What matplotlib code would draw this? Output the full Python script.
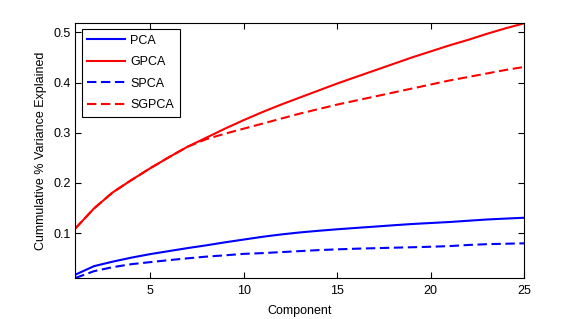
import matplotlib
matplotlib.use("Agg")
import matplotlib.pyplot as plt
import numpy as np

plt.rcParams["font.family"] = ["Liberation Sans", "DejaVu Sans"]
plt.rcParams["font.size"] = 9

components = np.arange(1, 26)

pca = [0.017, 0.034, 0.043, 0.051, 0.058, 0.064, 0.070, 0.0755, 0.0815, 0.087,
       0.0925, 0.0972, 0.1012, 0.1045, 0.1075, 0.1102, 0.1128, 0.1155, 0.118, 0.120,
       0.122, 0.1245, 0.127, 0.1288, 0.1305]
gpca = [0.109, 0.149, 0.181, 0.2056, 0.229, 0.251, 0.272, 0.290, 0.308, 0.325,
        0.341, 0.356, 0.370, 0.384, 0.398, 0.411, 0.424, 0.437, 0.450, 0.462,
        0.474, 0.485, 0.497, 0.508, 0.518]
spca = [0.0104, 0.024, 0.032, 0.038, 0.042, 0.046, 0.0496, 0.053, 0.0556, 0.0585,
        0.060, 0.062, 0.064, 0.066, 0.0675, 0.0688, 0.0698, 0.0708, 0.0717, 0.0727,
        0.074, 0.0762, 0.0778, 0.0787, 0.0795]
sgpca = [0.109, 0.149, 0.181, 0.2056, 0.229, 0.251, 0.272, 0.287, 0.298, 0.308,
         0.318, 0.328, 0.338, 0.347, 0.356, 0.364, 0.372, 0.380, 0.388, 0.396,
         0.404, 0.411, 0.418, 0.425, 0.431]

fig = plt.figure(figsize=(5.79, 3.19), dpi=100)
ax = fig.add_axes([0.130, 0.1285, 0.7755, 0.7985])

lw = 1.5
dash = (4.5, 2.2)
ax.plot(components, pca, color="#0000ff", lw=lw, label="PCA")
ax.plot(components, gpca, color="#ff0000", lw=lw, label="GPCA")
ax.plot(components, spca, color="#0000ff", lw=lw, dashes=dash, label="SPCA")
ax.plot(components, sgpca, color="#ff0000", lw=lw, dashes=dash, label="SGPCA")

ax.set_xlim(1, 25)
ax.set_ylim(min(spca), max(gpca))
ax.set_xticks([5, 10, 15, 20, 25])
ax.set_yticks([0.1, 0.2, 0.3, 0.4, 0.5])
ax.tick_params(direction="in", top=True, right=True, length=4, width=0.8)
ax.tick_params(axis="x", pad=5)
for s in ax.spines.values():
    s.set_linewidth(0.8)

ax.set_xlabel("Component", labelpad=6)
ax.set_ylabel("Cummulative % Variance Explained", labelpad=4)

leg = ax.legend(loc="upper left", bbox_to_anchor=(0.014, 0.977), fancybox=False,
                framealpha=1, edgecolor="black", handlelength=3.0,
                handletextpad=0.45, borderpad=0.45, labelspacing=0.75,
                borderaxespad=0)
leg.get_frame().set_linewidth(0.8)

fig.savefig("out.png", dpi=100)
